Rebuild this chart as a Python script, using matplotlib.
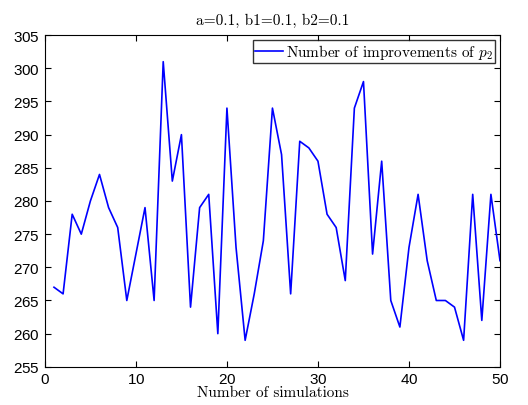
import matplotlib
matplotlib.use("Agg")
import matplotlib.pyplot as plt

# number of improvements of p2 per simulation
simulations = list(range(1, 51))
improvements = [267, 266, 278, 275, 280, 284, 279, 276, 265, 272,
                279, 265, 301, 283, 290, 264, 279, 281, 260, 294,
                273, 259, 266, 274, 294, 287, 266, 289, 288, 286,
                278, 276, 268, 294, 298, 272, 286, 265, 261, 273,
                281, 271, 265, 265, 264, 259, 281, 262, 281, 271]

plt.rcParams['mathtext.fontset'] = 'cm'
plt.rcParams['axes.formatter.use_mathtext'] = True

fig = plt.figure(figsize=(5.28, 4.06), dpi=100)
ax = fig.add_axes([0.085, 0.094, 0.862, 0.817])

ax.plot(simulations, improvements, color='blue', lw=1.2,
        label=r'Number of improvements of $p_2$')

ax.set_xlim(0, 50)
ax.set_ylim(255, 305)
ax.set_xticks(range(0, 51, 10))
ax.set_yticks(range(255, 306, 5))
ax.tick_params(direction='in', top=True, right=True, length=4, labelsize=11)
for lab in ax.get_xticklabels() + ax.get_yticklabels():
    lab.set_family('Liberation Sans')

ax.set_title('a=0.1, b1=0.1, b2=0.1', family='cmr10', fontsize=11, pad=8)
ax.set_xlabel('Number of simulations', family='cmr10', fontsize=11, labelpad=0)

leg = ax.legend(loc='upper right', prop={'family': 'cmr10', 'size': 11},
                fancybox=False, edgecolor='black', handlelength=1.8,
                handletextpad=0.2, borderpad=0.15, borderaxespad=0.3)
leg.get_frame().set_linewidth(1.0)

fig.savefig('out.png', dpi=100)
